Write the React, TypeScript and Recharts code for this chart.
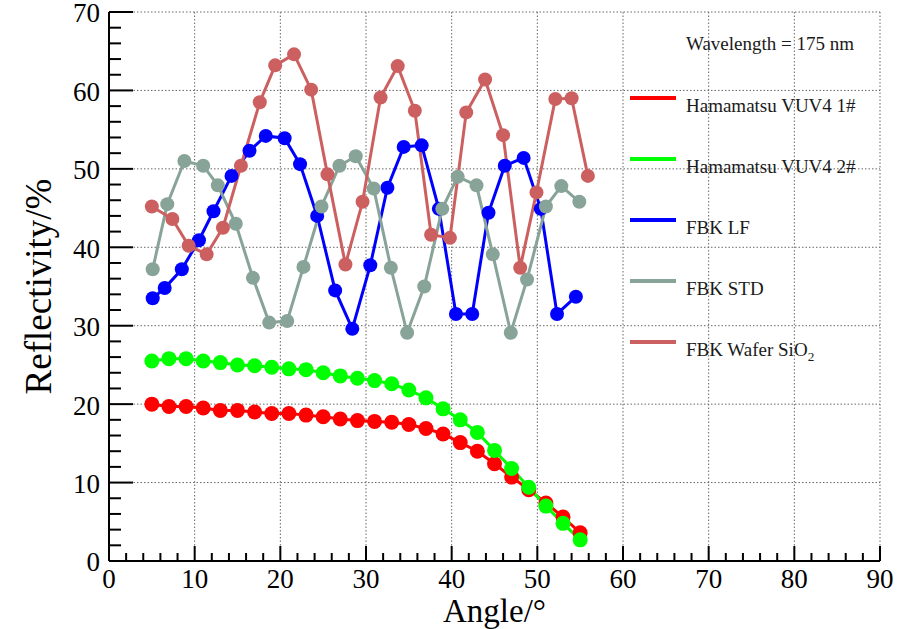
import React from "react";
import { LineChart, Line, XAxis, YAxis, CartesianGrid, Legend, Label } from "recharts";

// Hamamatsu VUV4 samples share the same angle grid
const hamAngles = [5, 7, 9, 11, 13, 15, 17, 19, 21, 23, 25, 27, 29, 31, 33, 35, 37, 39, 41, 43, 45, 47, 49, 51, 53, 55];
const ham1Values = [20.0, 19.7, 19.7, 19.5, 19.2, 19.2, 19.0, 18.8, 18.8, 18.6, 18.4, 18.1, 17.9, 17.8, 17.7, 17.4, 16.9, 16.2, 15.1, 14.0, 12.4, 10.7, 9.1, 7.4, 5.6, 3.6];
const ham2Values = [25.5, 25.8, 25.8, 25.5, 25.3, 25.0, 24.9, 24.7, 24.5, 24.4, 24.0, 23.6, 23.3, 23.0, 22.6, 21.8, 20.8, 19.4, 18.0, 16.4, 14.1, 11.8, 9.4, 7.0, 4.8, 2.7];

const lfAngles = [5.1, 6.5, 8.5, 10.5, 12.2, 14.3, 16.4, 18.3, 20.5, 22.3, 24.3, 26.4, 28.4, 30.5, 32.5, 34.4, 36.5, 38.5, 40.5, 42.4, 44.3, 46.2, 48.4, 50.4, 52.3, 54.5];
const lfValues = [33.5, 34.8, 37.2, 40.9, 44.6, 49.1, 52.3, 54.2, 53.9, 50.6, 44.0, 34.5, 29.6, 37.7, 47.6, 52.8, 53.0, 44.9, 31.5, 31.5, 44.4, 50.4, 51.4, 44.9, 31.5, 33.7];

const stdAngles = [5.1, 6.8, 8.8, 11.0, 12.7, 14.8, 16.8, 18.7, 20.8, 22.7, 24.8, 26.9, 28.8, 30.9, 32.9, 34.8, 36.8, 38.9, 40.7, 42.9, 44.8, 46.9, 48.8, 51.0, 52.8, 54.9];
const stdValues = [37.2, 45.5, 51.0, 50.4, 47.9, 43.0, 36.1, 30.4, 30.6, 37.5, 45.2, 50.4, 51.6, 47.5, 37.4, 29.1, 35.0, 44.9, 49.0, 47.9, 39.1, 29.1, 35.9, 45.2, 47.8, 45.8];

const waferAngles = [5.0, 7.4, 9.3, 11.4, 13.3, 15.4, 17.6, 19.4, 21.6, 23.6, 25.5, 27.6, 29.6, 31.7, 33.7, 35.7, 37.6, 39.8, 41.7, 43.9, 46.0, 48.0, 49.9, 52.1, 54.0, 55.9];
const waferValues = [45.2, 43.6, 40.2, 39.1, 42.5, 50.4, 58.5, 63.2, 64.6, 60.1, 49.3, 37.8, 45.8, 59.1, 63.1, 57.4, 41.6, 41.2, 57.2, 61.4, 54.3, 37.4, 47.0, 58.9, 59.0, 49.1];

const xMajor = [0, 10, 20, 30, 40, 50, 60, 70, 80, 90];
const yMajor = [0, 10, 20, 30, 40, 50, 60, 70];
const xTicks = Array.from({ length: 46 }, (_, i) => i * 2);
const yTicks = Array.from({ length: 36 }, (_, i) => i * 2);

const toPoints = (angles: number[], values: number[]) =>
  angles.map((angle, i) => ({ angle, value: values[i] }));

const series = [
  { name: "Hamamatsu VUV4 1#", color: "#ff0000", r: 7.5, data: toPoints(hamAngles, ham1Values) },
  { name: "Hamamatsu VUV4 2#", color: "#00ff00", r: 7.5, data: toPoints(hamAngles, ham2Values) },
  { name: "FBK LF", color: "#0000ff", r: 7, data: toPoints(lfAngles, lfValues) },
  { name: "FBK STD", color: "#88a398", r: 7, data: toPoints(stdAngles, stdValues) },
  { name: "FBK Wafer SiO2", color: "#cc6060", r: 7, data: toPoints(waferAngles, waferValues) },
];
const seriesOrder = series.map((s) => s.name);

const FONT = "'Liberation Serif', 'Times New Roman', serif";

// ticks point into the frame; only every 10th one gets a label
function XTick({ x, y, payload }: any) {
  const v = payload.value;
  const major = v % 10 === 0;
  return (
    <g>
      <line x1={x} x2={x} y1={y} y2={y - (major ? 15 : 8)} stroke="#000" strokeWidth={2} />
      {major && (
        <text x={x} y={y + 8} dy="0.71em" textAnchor="middle" fontSize={27} fontFamily={FONT} fill="#000">
          {v}
        </text>
      )}
    </g>
  );
}

function YTick({ x, y, payload }: any) {
  const v = payload.value;
  const major = v % 10 === 0;
  return (
    <g>
      <line x1={x} x2={x + (major ? 24 : 12)} y1={y} y2={y} stroke="#000" strokeWidth={2} />
      {major && (
        <text x={x - 9} y={y + 1} dy="0.35em" textAnchor="end" fontSize={27} fontFamily={FONT} fill="#000">
          {v}
        </text>
      )}
    </g>
  );
}

function LegendLabel({ text }: { text: string }) {
  if (text.endsWith("SiO2")) {
    return (
      <>
        {text.slice(0, -1)}
        <sub style={{ fontSize: "0.7em" }}>2</sub>
      </>
    );
  }
  return <>{text}</>;
}

function LegendBox({ payload }: any) {
  const items = [...(payload || [])].sort(
    (a: any, b: any) => seriesOrder.indexOf(a.value) - seriesOrder.indexOf(b.value)
  );
  return (
    <div style={{ position: "relative", width: 250, height: 370, fontFamily: FONT, fontSize: 19, color: "#1a1a1a" }}>
      <div style={{ position: "absolute", left: 56, top: 33, lineHeight: "22px", whiteSpace: "nowrap" }}>
        Wavelength = 175 nm
      </div>
      {items.map((p: any, i: number) => (
        <div key={p.value}>
          <div
            style={{
              position: "absolute",
              left: 0,
              top: 96 + i * 61,
              width: 46,
              height: 4,
              background: p.color,
            }}
          />
          <div
            style={{
              position: "absolute",
              left: 56,
              top: 95 + i * 61,
              lineHeight: "22px",
              whiteSpace: "nowrap",
            }}
          >
            <LegendLabel text={p.value} />
          </div>
        </div>
      ))}
    </div>
  );
}

export default function App() {
  return (
    <div style={{ position: "absolute", left: 0, top: 0, background: "#fff" }}>
      <LineChart width={898} height={629} margin={{ top: 12, right: 18, bottom: 0, left: 0 }}>
        <CartesianGrid
          stroke="#666"
          strokeDasharray="1.5 2"
          verticalValues={xMajor}
          horizontalValues={yMajor}
        />
        <XAxis
          dataKey="angle"
          type="number"
          domain={[0, 90]}
          ticks={xTicks}
          interval={0}
          tickSize={0}
          tickMargin={0}
          height={68}
          axisLine={{ stroke: "#000", strokeWidth: 2 }}
          tickLine={false}
          tick={<XTick />}
        >
          <Label
            value="Angle/°"
            position="insideBottom"
            offset={7}
            style={{ fontFamily: FONT, fontSize: 33, fill: "#000" }}
          />
        </XAxis>
        <XAxis
          xAxisId="top"
          orientation="top"
          type="number"
          domain={[0, 90]}
          height={0}
          tick={false}
          tickLine={false}
          axisLine={{ stroke: "#222", strokeWidth: 2 }}
        />
        <YAxis
          type="number"
          domain={[0, 70]}
          ticks={yTicks}
          interval={0}
          tickSize={0}
          tickMargin={0}
          width={109}
          axisLine={{ stroke: "#000", strokeWidth: 2 }}
          tickLine={false}
          tick={<YTick />}
        >
          <Label
            value="Reflectivity/%"
            angle={-90}
            position="insideLeft"
            offset={38}
            style={{ fontFamily: FONT, fontSize: 37, fill: "#000", textAnchor: "middle" }}
          />
        </YAxis>
        <YAxis
          yAxisId="right"
          orientation="right"
          type="number"
          domain={[0, 70]}
          width={0}
          tick={false}
          tickLine={false}
          axisLine={{ stroke: "#222", strokeWidth: 2 }}
        />
        {series.map((s) => (
          <Line
            key={s.name}
            name={s.name}
            data={s.data}
            dataKey="value"
            stroke={s.color}
            strokeWidth={3}
            dot={{ r: s.r, fill: s.color, stroke: s.color, strokeWidth: 0 }}
            activeDot={false}
            isAnimationActive={false}
          />
        ))}
        <Legend
          layout="horizontal"
          verticalAlign="middle"
          align="center"
          wrapperStyle={{ left: 630, top: 0, width: 250, height: 370 }}
          content={<LegendBox />}
        />
      </LineChart>
    </div>
  );
}
